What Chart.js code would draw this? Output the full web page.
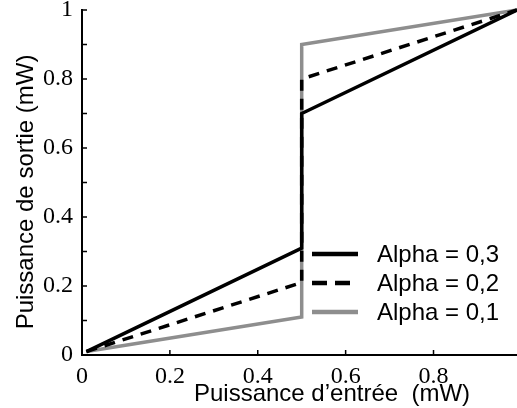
<!DOCTYPE html>
<html>
<head>
<meta charset="utf-8">
<script src="https://cdn.jsdelivr.net/npm/chart.js@4"></script>
<style>
  html, body { margin: 0; padding: 0; background: #fff; }
  canvas { display: block; }
</style>
</head>
<body>
<canvas id="myChart" width="517" height="408"></canvas>
<script>
// input power (mW) - the jump happens at 0.5
const inputPower = [0.01, 0.5, 0.5, 0.99];
const outAlpha03 = [0.01, 0.31, 0.70, 1.0];
const outAlpha02 = [0.01, 0.21, 0.80, 1.0];
const outAlpha01 = [0.01, 0.11, 0.90, 1.0];
const seriesLabels = ['Alpha = 0,3', 'Alpha = 0,2', 'Alpha = 0,1'];
const xTitle = 'Puissance d\u2019entrée  (mW)';
const yTitle = 'Puissance de sortie (mW)';

function toPoints(ys) {
    return ys.map((y, i) => ({ x: inputPower[i], y: y }));
}

const GRAY = '#8e8e8e';
const tickFont = { family: '"Liberation Serif", "Times New Roman", serif', size: 24 };
const sansFont = '24px "Liberation Sans", Arial, sans-serif';

// ticks pointing into the plot
const innerTicks = {
    id: 'innerTicks',
    afterDraw(chart) {
        const ctx = chart.ctx;
        const xs = chart.scales.x, ys = chart.scales.y;
        ctx.save();
        ctx.strokeStyle = '#000';
        ctx.lineWidth = 1.5;
        ctx.beginPath();
        xs.ticks.forEach(t => {
            if (t.value <= 0) return;
            const px = xs.getPixelForValue(t.value);
            ctx.moveTo(px, ys.bottom);
            ctx.lineTo(px, ys.bottom - 5);
        });
        ys.ticks.forEach(t => {
            if (t.value <= 0) return;
            const py = ys.getPixelForValue(t.value);
            ctx.moveTo(xs.left, py);
            ctx.lineTo(xs.left + 5, py);
        });
        ctx.stroke();
        ctx.restore();
    }
};

// axis titles (x title sits right of center in the original)
const axisTitles = {
    id: 'axisTitles',
    afterDraw(chart) {
        const ctx = chart.ctx;
        ctx.save();
        ctx.fillStyle = '#000';
        ctx.font = sansFont;
        ctx.textAlign = 'center';
        ctx.textBaseline = 'alphabetic';
        ctx.fillText(xTitle, 332, 401);
        ctx.translate(33, 192);
        ctx.rotate(-Math.PI / 2);
        ctx.fillText(yTitle, 0, 0);
        ctx.restore();
    }
};

// legend inside the plot, no box
const insideLegend = {
    id: 'insideLegend',
    afterDraw(chart) {
        const ctx = chart.ctx;
        ctx.save();
        chart.data.datasets.forEach((ds, i) => {
            const y = 254 + i * 29;
            ctx.beginPath();
            ctx.strokeStyle = ds.borderColor;
            ctx.lineWidth = 4.5;
            ctx.setLineDash(ds.borderDash.length ? [15, 8] : []);
            ctx.moveTo(312, y);
            ctx.lineTo(358, y);
            ctx.stroke();
            ctx.setLineDash([]);
            ctx.fillStyle = '#000';
            ctx.font = sansFont;
            ctx.textAlign = 'left';
            ctx.textBaseline = 'middle';
            ctx.fillText(ds.label, 377, y + 1);
        });
        ctx.restore();
    }
};

const ctx = document.getElementById('myChart').getContext('2d');
const chart = new Chart(ctx, {
    type: 'scatter',
    data: {
        datasets: [
            { label: seriesLabels[0], data: toPoints(outAlpha03), borderColor: '#000', borderDash: [] },
            { label: seriesLabels[1], data: toPoints(outAlpha02), borderColor: '#000', borderDash: [11, 8] },
            { label: seriesLabels[2], data: toPoints(outAlpha01), borderColor: GRAY, borderDash: [] }
        ].map(d => Object.assign(d, {
            showLine: true,
            borderWidth: 3.5,
            pointRadius: 0,
            tension: 0,
            clip: false
        }))
    },
    options: {
        responsive: false,
        animation: false,
        events: [],
        layout: { padding: { top: 10, right: 0, left: 0, bottom: 0 } },
        plugins: {
            legend: { display: false },
            tooltip: { enabled: false }
        },
        scales: {
            x: {
                type: 'linear',
                min: 0,
                max: 0.99,
                grid: { display: false, drawTicks: false },
                border: { display: true, color: '#000', width: 2 },
                ticks: {
                    stepSize: 0.2,
                    includeBounds: false,
                    color: '#000',
                    font: tickFont,
                    padding: 7,
                    maxRotation: 0,
                    callback: v => v === 0 ? '0' : v.toFixed(1)
                },
                afterFit: s => { s.height = 53; s.paddingLeft = 0; s.paddingRight = 0; }
            },
            y: {
                type: 'linear',
                min: 0,
                max: 1,
                grid: { display: false, drawTicks: false },
                border: { display: true, color: '#000', width: 2 },
                ticks: {
                    stepSize: 0.1,
                    color: '#000',
                    font: tickFont,
                    padding: 9,
                    autoSkip: false,
                    callback: v => {
                        const k = Math.round(v * 10);
                        if (k % 2 !== 0) return '';
                        if (k === 0) return '0';
                        if (k === 10) return '1';
                        return (k / 10).toFixed(1);
                    }
                },
                afterFit: s => { s.width = 82; s.paddingTop = 0; s.paddingBottom = 0; }
            }
        }
    },
    plugins: [innerTicks, axisTitles, insideLegend]
});
</script>
</body>
</html>
